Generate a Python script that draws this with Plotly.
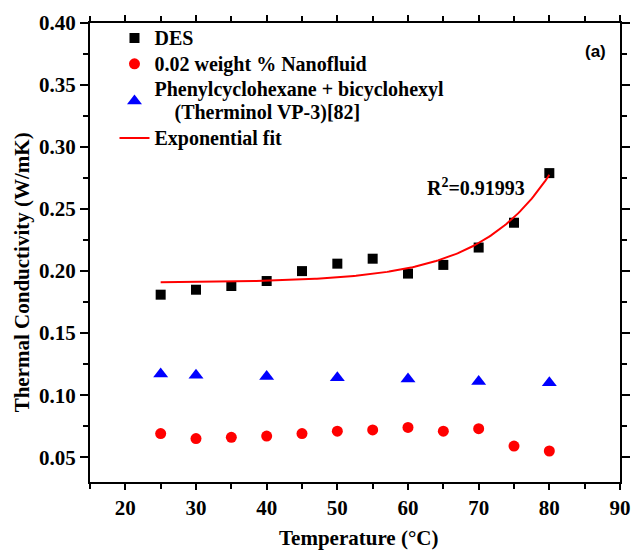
import numpy as np
import plotly.graph_objects as go

# ---- data ----
des_temp = [25, 30, 35, 40, 45, 50, 55, 60, 65, 70, 75, 80]
des_k = [0.181, 0.185, 0.188, 0.192, 0.200, 0.206, 0.210, 0.198, 0.205, 0.219, 0.239, 0.279]

nano_temp = [25, 30, 35, 40, 45, 50, 55, 60, 65, 70, 75, 80]
nano_k = [0.069, 0.065, 0.066, 0.067, 0.069, 0.071, 0.072, 0.074, 0.071, 0.073, 0.059, 0.055]

vp3_temp = [25, 30, 40, 50, 60, 70, 80]
vp3_k = [0.117, 0.116, 0.115, 0.114, 0.113, 0.111, 0.110]

# exponential fit y = y0 + A*exp(x/t) (parameters)
fit_y0 = 0.1906
fit_A = 2.92e-5
fit_t = 10.0
fit_range = [25, 80]
r2_text = "<b>R<sup>2</sup>=0.91993</b>"

x_ticks = [20, 30, 40, 50, 60, 70, 80, 90]
y_ticks = [0.05, 0.10, 0.15, 0.20, 0.25, 0.30, 0.35, 0.40]

fit_x = np.linspace(fit_range[0], fit_range[1], 200)
fit_y = fit_y0 + fit_A * np.exp(fit_x / fit_t)

SERIF = "Liberation Serif"
SANS = "Liberation Sans"


def leg(s):
    return '<span style="font-size:20px"><b>' + s + '</b></span>'


fig = go.Figure()
fig.add_trace(go.Scatter(x=des_temp, y=des_k, mode="markers", name=leg("DES"),
                         marker=dict(symbol="square", size=10, color="black")))
fig.add_trace(go.Scatter(x=nano_temp, y=nano_k, mode="markers", name=leg("0.02 weight % Nanofluid"),
                         marker=dict(symbol="circle", size=11, color="#ff0000")))
fig.add_trace(go.Scatter(x=vp3_temp, y=vp3_k, mode="markers",
                         name=leg("Phenylcyclohexane + bicyclohexyl") + "<br>" +
                         leg("\u00a0\u00a0\u00a0\u00a0(Therminol VP-3)[82]"),
                         marker=dict(symbol="triangle-up", size=13, color="#0000ff")))
fig.add_trace(go.Scatter(x=fit_x, y=fit_y, mode="lines", name=leg("Exponential fit"),
                         line=dict(color="#ff0000", width=2)))

axis_common = dict(
    showline=True, linewidth=2, linecolor="black", mirror="allticks",
    ticks="outside", tickcolor="black", tickwidth=2,
    showgrid=False, zeroline=False,
    tickfont=dict(family=SERIF, size=21, color="black"),
)

fig.update_xaxes(
    range=[15, 90], tickvals=x_ticks, ticktext=["<b>%d</b>" % v for v in x_ticks], ticklen=6,
    minor=dict(dtick=5, tick0=0, ticklen=5, ticks="outside", tickcolor="black", tickwidth=2),
    **axis_common,
)
fig.update_yaxes(
    range=[0.03, 0.40], tickvals=y_ticks, ticktext=["<b>%.2f</b>" % v for v in y_ticks], ticklen=8,
    minor=dict(dtick=0.025, tick0=0, ticklen=5, ticks="outside", tickcolor="black", tickwidth=2),
    **axis_common,
)

fig.add_annotation(text="<b>Thermal Conductivity (W/mK)</b>", xref="paper", yref="paper",
                   x=(21 - 90) / 541, y=(482 - 271) / 461, textangle=-90, showarrow=False,
                   xanchor="center", yanchor="middle",
                   font=dict(family=SERIF, size=21, color="black"))
fig.add_annotation(text="<b>Temperature (°C)</b>", xref="paper", yref="paper",
                   x=(364 - 90) / 541, y=(482 - 552) / 461, showarrow=False,
                   xanchor="center", yanchor="bottom",
                   font=dict(family=SERIF, size=21, color="black"))
fig.add_annotation(text=r2_text, x=69.6, y=0.268, xref="x", yref="y", showarrow=False,
                   font=dict(family=SERIF, size=20, color="black"))
fig.add_annotation(text="<b>(a)</b>", x=86.6, y=0.377, xref="x", yref="y", showarrow=False,
                   font=dict(family=SANS, size=17, color="black"))

fig.update_layout(
    width=642, height=553,
    margin=dict(l=90, r=11, t=21, b=71),
    plot_bgcolor="white", paper_bgcolor="white",
    font=dict(family=SERIF, color="black"),
    legend=dict(x=(115 - 90) / 541, y=1.006, xanchor="left", yanchor="top",
                bgcolor="rgba(0,0,0,0)",
                font=dict(family=SERIF, size=17.5, color="black"),
                itemsizing="trace", tracegroupgap=0),
    showlegend=True,
)

fig.write_html("out.html")
